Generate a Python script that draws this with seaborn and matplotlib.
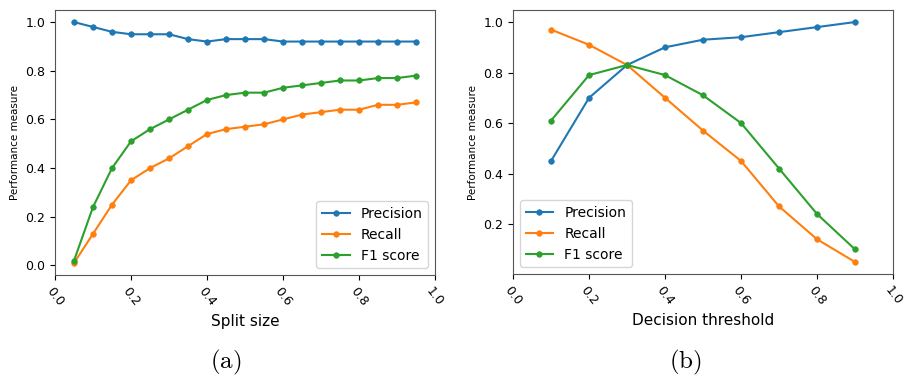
import numpy as np
import pandas as pd
import matplotlib
matplotlib.use("Agg")
import matplotlib.pyplot as plt
import seaborn as sns

# Panel (a): split size
split_size = [0.05, 0.10, 0.15, 0.20, 0.25, 0.30, 0.35, 0.40, 0.45, 0.50,
              0.55, 0.60, 0.65, 0.70, 0.75, 0.80, 0.85, 0.90, 0.95]
prec_a = [1.00, 0.98, 0.96, 0.95, 0.95, 0.95, 0.93, 0.92, 0.93, 0.93,
          0.93, 0.92, 0.92, 0.92, 0.92, 0.92, 0.92, 0.92, 0.92]
recall_a = [0.01, 0.13, 0.25, 0.35, 0.40, 0.44, 0.49, 0.54, 0.56, 0.57,
            0.58, 0.60, 0.62, 0.63, 0.64, 0.64, 0.66, 0.66, 0.67]
f1_a = [0.02, 0.24, 0.40, 0.51, 0.56, 0.60, 0.64, 0.68, 0.70, 0.71,
        0.71, 0.73, 0.74, 0.75, 0.76, 0.76, 0.77, 0.77, 0.78]

# Panel (b): decision threshold
threshold = [0.1, 0.2, 0.3, 0.4, 0.5, 0.6, 0.7, 0.8, 0.9]
prec_b = [0.45, 0.70, 0.83, 0.90, 0.93, 0.94, 0.96, 0.98, 1.00]
recall_b = [0.97, 0.91, 0.83, 0.70, 0.57, 0.45, 0.27, 0.14, 0.05]
f1_b = [0.61, 0.79, 0.83, 0.79, 0.71, 0.60, 0.42, 0.24, 0.10]

series_names = ["Precision", "Recall", "F1 score"]
xticks = [0.0, 0.2, 0.4, 0.6, 0.8, 1.0]
xtick_labels = ["0.0", "0.2", "0.4", "0.6", "0.8", "1.0"]

colors = ["#1f77b4", "#ff7f0e", "#2ca02c"]

plt.rcParams["mathtext.fontset"] = "cm"

fig = plt.figure(figsize=(9.05, 3.82), dpi=100)
ax1 = fig.add_axes([0.0608, 0.280, 0.4199, 0.6937])
ax2 = fig.add_axes([0.5669, 0.2827, 0.4199, 0.691])


def draw(ax, x, ys, xlabel, legend_loc):
    for name, y, c in zip(series_names, ys, colors):
        sns.lineplot(x=x, y=y, ax=ax, color=c, marker="o", markersize=4,
                     markeredgecolor=c, markeredgewidth=0.5, linewidth=1.5,
                     label=name)
    ax.set_xlim(0, 1)
    ax.set_xticks(xticks)
    ax.set_xticklabels(xtick_labels)
    ax.tick_params(axis="x", labelrotation=-52, labelsize=9)
    ax.tick_params(axis="y", labelsize=9)
    for lab in ax.get_xticklabels():
        lab.set_ha("center")
    ax.set_xlabel(xlabel, fontsize=11)
    ax.set_ylabel("Performance measure", fontsize=7.5)
    ax.legend(loc=legend_loc, fontsize=10)
    for s in ax.spines.values():
        s.set_color("#555555")


draw(ax1, split_size, [prec_a, recall_a, f1_a], "Split size", "lower right")
draw(ax2, threshold, [prec_b, recall_b, f1_b], "Decision threshold", "lower left")
ax1.set_yticks([0.0, 0.2, 0.4, 0.6, 0.8, 1.0])
ax2.set_yticks([0.2, 0.4, 0.6, 0.8, 1.0])

fig.text(0.249, 0.052, r"$\mathrm{(a)}$", ha="center", va="center", fontsize=18)
fig.text(0.757, 0.052, r"$\mathrm{(b)}$", ha="center", va="center", fontsize=18)

fig.savefig("out.png", dpi=100)
